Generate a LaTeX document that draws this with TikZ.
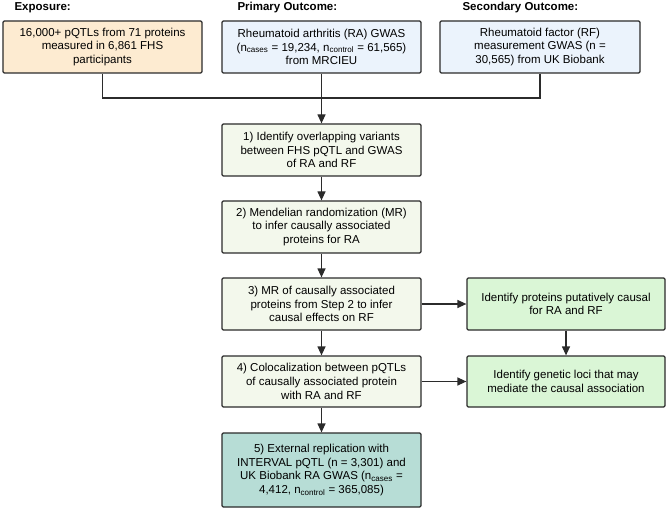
\documentclass[tikz,border=0pt]{standalone}
\usepackage{fontspec}
\setmainfont{Liberation Sans}
\usetikzlibrary{arrows.meta}
\definecolor{expfill}{HTML}{FDEBD1}
\definecolor{outfill}{HTML}{EBF3FC}
\definecolor{stepfill}{HTML}{F3F8EC}
\definecolor{resfill}{HTML}{DAF6D6}
\definecolor{repfill}{HTML}{B7DDD6}
\definecolor{edge}{HTML}{2B2B2B}
\tikzset{
  box/.style={draw=edge, line width=1.2pt, rounded corners=1.2pt, align=center,
    minimum width=199pt, minimum height=52pt, inner sep=2pt,
    font=\fontsize{11.5}{13.7}\selectfont},
  head/.style={anchor=west, font=\fontsize{11.5}{13.7}\selectfont\bfseries},
  link/.style={draw=edge, line width=1.2pt},
  flow/.style={link, -{Triangle[length=9pt,width=8pt]}}
}
\begin{document}
\begin{tikzpicture}[x=1pt,y=-1pt]
\useasboundingbox (0,0) rectangle (668,510);
\node[head] (h1) at (11,8) {Exposure:};
\node[head] (h2) at (234,8) {Primary Outcome:};
\node[head] (h3) at (459,8) {Secondary Outcome:};
\node[box, fill=expfill] (exp) at (102.5,47) {16,000+ pQTLs from 71 proteins\\measured in 6,861 FHS\\participants};
\node[box, fill=outfill] (prim) at (321.5,47) {Rheumatoid arthritis (RA) GWAS\\(n\textsubscript{cases} = 19,234, n\textsubscript{control} = 61,565)\\from MRCIEU};
\node[box, fill=outfill, minimum width=200pt] (sec) at (540,47) {Rheumatoid factor (RF)\\measurement GWAS (n =\\30,565) from UK Biobank};
\node[box, fill=stepfill] (s1) at (321.5,150) {1) Identify overlapping variants\\between FHS pQTL and GWAS\\of RA and RF};
\node[box, fill=stepfill] (s2) at (321.5,227) {2) Mendelian randomization (MR)\\to infer causally associated\\proteins for RA};
\node[box, fill=stepfill] (s3) at (321.5,304) {3) MR of causally associated\\proteins from Step 2 to infer\\causal effects on RF};
\node[box, fill=stepfill, minimum height=51pt] (s4) at (321.5,381.5) {4) Colocalization between pQTLs\\of causally associated protein\\with RA and RF};
\node[box, fill=repfill, minimum height=74pt] (s5) at (321.5,470) {5) External replication with\\INTERVAL pQTL (n = 3,301) and\\UK Biobank RA GWAS (n\textsubscript{cases} =\\4,412, n\textsubscript{control} = 365,085)};
\node[box, fill=resfill, minimum width=198pt] (r1) at (566,304) {Identify proteins putatively causal\\for RA and RF};
\node[box, fill=resfill, minimum width=198pt, minimum height=51pt] (r2) at (566,381.5) {Identify genetic loci that may\\mediate the causal association};
\coordinate (join) at (321.5,98);
\path[link] (exp.south) |- (join);
\path[link] (sec.south) |- (join);
\path[flow] (prim) -- (s1);
\path[flow] (s1) -- (s2);
\path[flow] (s2) -- (s3);
\path[flow] (s3) -- (s4);
\path[flow] (s4) -- (s5);
\path[flow] (s3) -- (r1);
\path[flow] (s4) -- (r2);
\path[flow] (r1) -- (r2);
\end{tikzpicture}
\end{document}
